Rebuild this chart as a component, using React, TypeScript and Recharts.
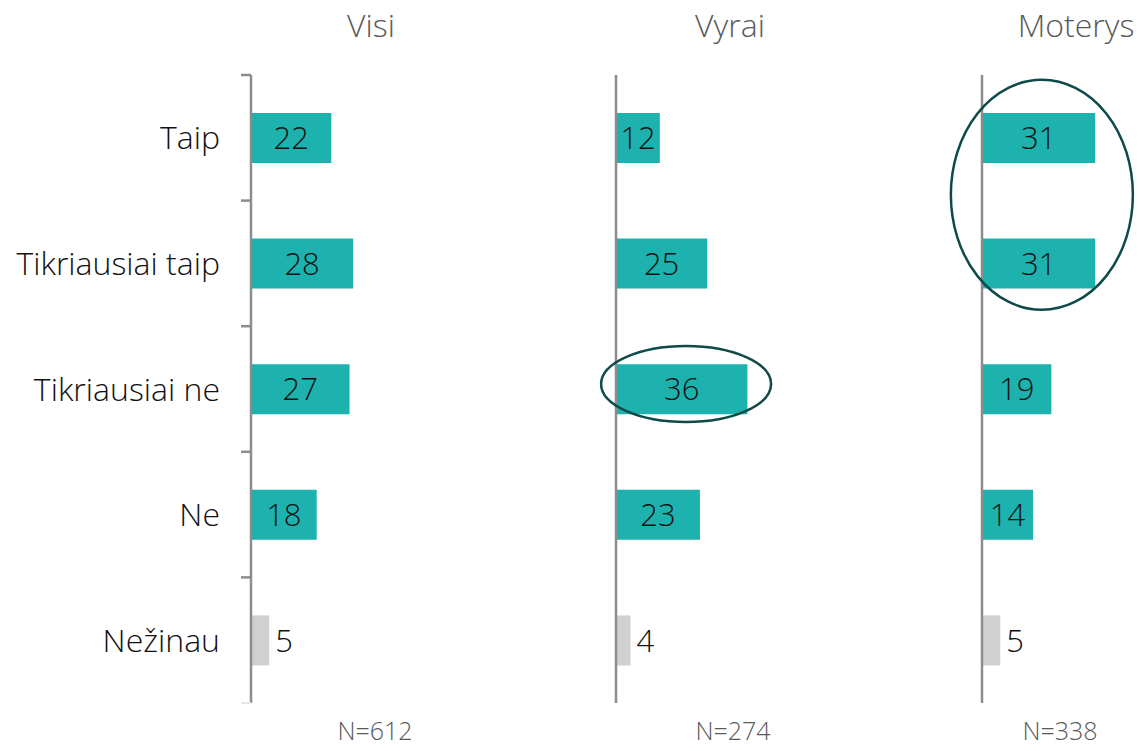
import { BarChart, Bar, XAxis, YAxis, Cell, LabelList, ReferenceDot, ReferenceLine } from 'recharts'

const categories = ['Taip', 'Tikriausiai taip', 'Tikriausiai ne', 'Ne', 'Nežinau']
const visi = [22, 28, 27, 18, 5]
const vyrai = [12, 25, 36, 23, 4]
const moterys = [31, 31, 19, 14, 5]
const groups = ['Visi', 'Vyrai', 'Moterys']
const sampleSizes = ['N=612', 'N=274', 'N=338']

const FONT = '"Open Sans", "Segoe UI", sans-serif'
const TEAL = '#1DB2AD'
const GREY_BAR = '#D0D0D0'
const AXIS = '#8C8C8C'
const RING = '#0E4A4A'
const TOP = 75
const BOTTOM = 48
const H = 751
const PLOT_W = 365
const BAND = (H - TOP - BOTTOM) / categories.length

const toRows = (vals: number[]) =>
  categories.map((c, i) => ({ name: c, value: vals[i], dk: c === 'Nežinau' }))

function CatTick({ y, payload, index }: any) {
  const ax = 251
  return (
    <g>
      <text
        x={ax - 31}
        y={y}
        dy="0.36em"
        textAnchor="end"
        fill="#111"
        fontSize={32}
        fontWeight={300}
        fontFamily={FONT}
      >
        {payload.value}
      </text>
      <line x1={ax - 10} x2={ax} y1={y - BAND / 2} y2={y - BAND / 2} stroke={AXIS} strokeWidth={2.5} />
      {index === categories.length - 1 && (
        <line x1={ax - 10} x2={ax} y1={y + BAND / 2} y2={y + BAND / 2} stroke="#E6E6E6" strokeWidth={2} />
      )}
    </g>
  )
}

function ValueLabel({ x, y, width, height, value, index }: any) {
  const dk = categories[index] === 'Nežinau'
  return (
    <text
      x={dk ? x + width + 6 : x + width / 2}
      y={y + height / 2}
      dy="0.36em"
      textAnchor={dk ? 'start' : 'middle'}
      fill="#111"
      fontSize={31}
      fontWeight={300}
      fontFamily={FONT}
    >
      {value}
    </text>
  )
}

const ring = (rx: number, ry: number, dy: number) => (p: any) =>
  <ellipse cx={p.cx} cy={p.cy + dy} rx={rx} ry={ry} fill="none" stroke={RING} strokeWidth={2.5} />

function Panel({ vals, left, padLeft, yWidth, showCats, children }: any) {
  const data = toRows(vals)
  return (
    <div style={{ position: 'absolute', left, top: 0 }}>
      <BarChart
        layout="vertical"
        width={padLeft + yWidth + PLOT_W}
        height={H}
        data={data}
        margin={{ top: TOP, right: 0, bottom: BOTTOM, left: padLeft }}
        barSize={50}
      >
        <XAxis type="number" domain={[0, 100]} hide />
        <YAxis
          type="category"
          dataKey="name"
          width={yWidth}
          hide={!showCats}
          axisLine={{ stroke: AXIS, strokeWidth: 2.5 }}
          tickLine={false}
          tick={<CatTick />}
          interval={0}
        />
        {!showCats && <ReferenceLine x={0} stroke={AXIS} strokeWidth={2.5} ifOverflow="visible" />}
        <Bar dataKey="value" isAnimationActive={false}>
          {data.map((d, i) => (
            <Cell key={i} fill={d.dk ? GREY_BAR : TEAL} />
          ))}
          <LabelList dataKey="value" content={<ValueLabel />} />
        </Bar>
        {children}
      </BarChart>
    </div>
  )
}

const titleStyle = (cx: number, top: number, size: number): any => ({
  position: 'absolute',
  left: cx - 100,
  width: 200,
  top,
  textAlign: 'center',
  fontSize: size,
  fontWeight: 300,
  color: '#595959',
  fontFamily: FONT,
  lineHeight: 1,
})

export default function App() {
  const titleX = [371, 730, 1076]
  const nX = [375, 733, 1060]
  return (
    <div
      style={{
        position: 'absolute',
        left: 0,
        top: 0,
        width: 1140,
        height: H,
        overflow: 'hidden',
        background: '#fff',
      }}
    >
      <Panel vals={visi} left={0} padLeft={0} yWidth={251} showCats />
      <Panel vals={vyrai} left={580} padLeft={36} yWidth={0} showCats={false}>
        <ReferenceDot x={19.2} y="Tikriausiai ne" ifOverflow="visible" shape={ring(85, 38, -5)} />
      </Panel>
      <Panel vals={moterys} left={936} padLeft={46} yWidth={0} showCats={false}>
        <ReferenceDot x={16.4} y="Taip" ifOverflow="visible" shape={ring(91, 115, 57)} />
      </Panel>
      {groups.map((g, i) => (
        <div key={g} style={titleStyle(titleX[i], 9, 32)}>
          {g}
        </div>
      ))}
      {sampleSizes.map((n, i) => (
        <div key={n} style={titleStyle(nX[i], 718, 25)}>
          {n}
        </div>
      ))}
    </div>
  )
}
